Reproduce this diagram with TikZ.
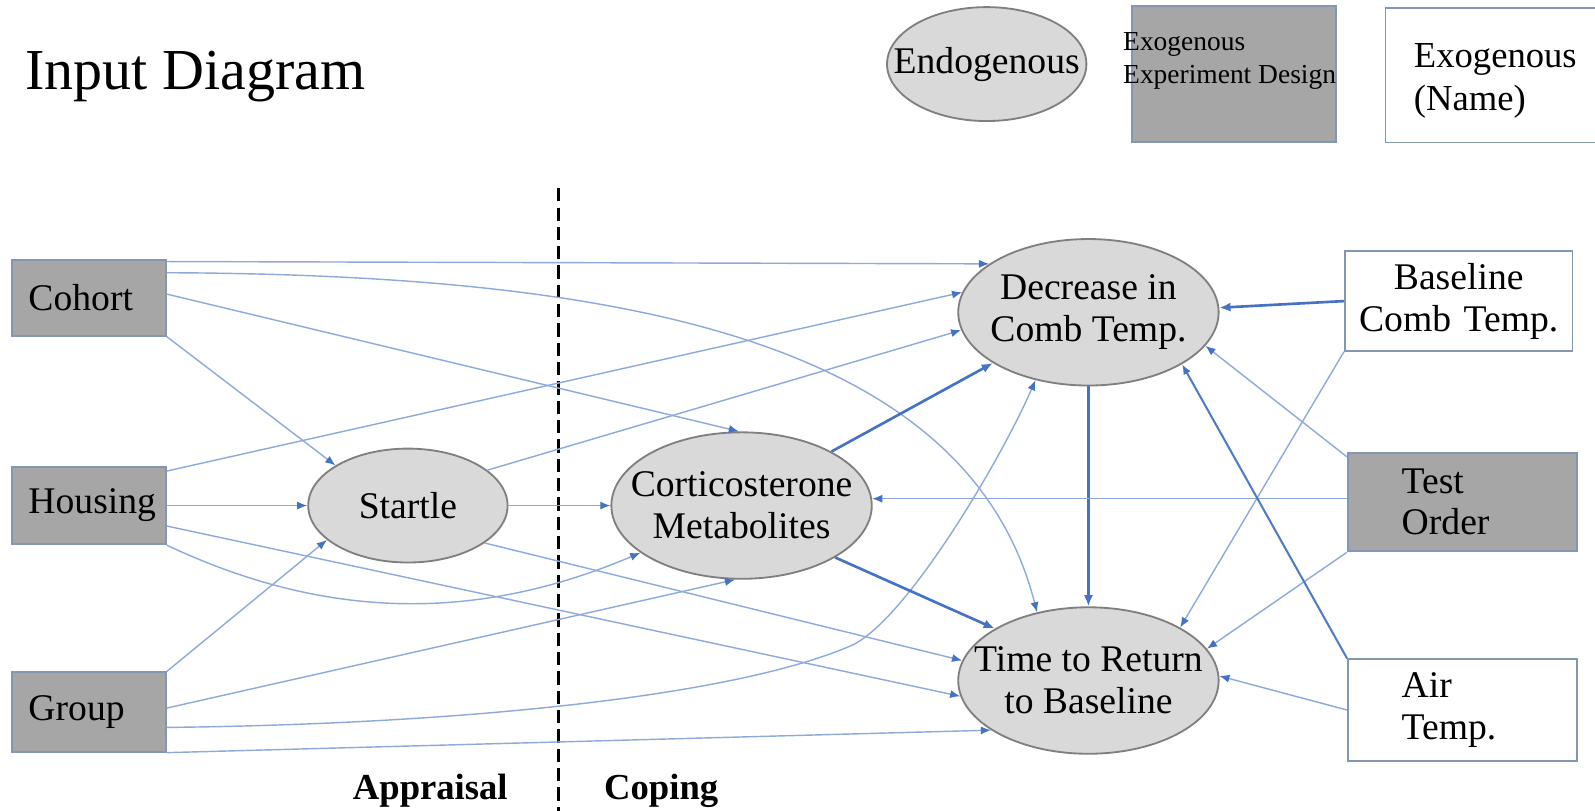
\documentclass[tikz,border=0pt]{standalone}
\usepackage{fontspec}
\setmainfont{Liberation Serif}
\usetikzlibrary{arrows.meta,shapes.geometric,calc}
\definecolor{lineblue}{HTML}{8EAADB}
\definecolor{darkblue}{HTML}{4472C4}
\definecolor{boxgray}{HTML}{A6A6A6}
\definecolor{boxedge}{HTML}{8497B0}
\definecolor{ellfill}{HTML}{D9D9D9}
\definecolor{elledge}{HTML}{7F7F7F}
\begin{document}
\begin{tikzpicture}[x=1pt,y=-1pt,
  nodefont/.style={font=\rmfamily\fontsize{37}{41}\selectfont},
  endo/.style={ellipse, draw=elledge, fill=ellfill, line width=1.8pt, inner xsep=-60pt, inner ysep=-30pt, align=center, nodefont},
  exogray/.style={rectangle, draw=boxedge, fill=boxgray, line width=1.8pt, inner sep=0pt},
  exowhite/.style={rectangle, draw=boxedge, fill=white, line width=1.6pt, inner sep=0pt},
  lnk/.style={draw=lineblue, line width=1.4pt, -{Latex[length=10pt,width=8pt,color=darkblue]}},
  lnkm/.style={draw=darkblue!85!lineblue, line width=2pt, -{Latex[length=10pt,width=8pt,color=darkblue]}},
  lnkb/.style={draw=darkblue, line width=2.6pt, -{Latex[length=11pt,width=9pt]}},
]
\useasboundingbox (0,0) rectangle (1568,797);

% title and legend
\node[anchor=base west, font=\rmfamily\fontsize{57}{60}\selectfont, inner sep=0pt] (title) at (25,88) {Input Diagram};
\node[endo, minimum width=196pt, minimum height=112pt] (legendo) at (970,63) {Endogenous};
\node[exogray, minimum width=200pt, minimum height=134pt] (legexo) at (1213,73) {};
\node[anchor=west, align=left, inner sep=0pt, font=\rmfamily\fontsize{27}{32}\selectfont] (legexotext) at (1104,60) {Exogenous\\Experiment Design};
\node[exowhite, minimum height=132pt, text width=170pt, inner xsep=28pt, align=left, font=\rmfamily\fontsize{36}{42}\selectfont] (legname) at (1475,74) {\rule{0pt}{34pt}Exogenous\\(Name)};

% divider
\coordinate (dtop) at (549,185);
\coordinate (dbot) at (549,800);
\draw[black, line width=3pt, dash pattern=on 13pt off 6pt] (dtop) -- (dbot);
\node[anchor=base, inner sep=0pt, font=\rmfamily\bfseries\fontsize{36}{40}\selectfont] (appr) at (423,786) {Appraisal};
\node[anchor=base, inner sep=0pt, font=\rmfamily\bfseries\fontsize{36}{40}\selectfont] (coping) at (650,786) {Coping};

% exogenous design boxes
\node[exogray, minimum width=151pt, minimum height=74pt, text width=119pt, inner xsep=16pt, align=left, nodefont] (cohort) at (87.5,293) {Cohort};
\node[exogray, minimum width=151pt, minimum height=76pt, text width=119pt, inner xsep=16pt, align=left, nodefont] (housing) at (87.5,497) {Housing};
\node[exogray, minimum width=151pt, minimum height=78pt, text width=119pt, inner xsep=16pt, align=left, nodefont] (group) at (87.5,700) {Group};
\node[exogray, minimum width=225pt, minimum height=97pt, text width=119pt, inner xsep=53pt, align=left, nodefont] (test) at (1437.5,493.5) {Test\\Order};

% exogenous named boxes
\node[exowhite, minimum width=224pt, minimum height=98pt, text width=224pt, align=center, nodefont] (base) at (1434,296) {Baseline\\Comb Temp.};
\node[exowhite, minimum width=225pt, minimum height=100pt, text width=119pt, inner xsep=53pt, align=left, nodefont] (air) at (1437.5,698) {Air\\Temp.};

% endogenous
\node[endo, minimum width=196pt, minimum height=112pt] (startle) at (401,497) {Startle};
\node[endo, minimum width=256pt, minimum height=144pt] (cort) at (729,497) {Corticosterone\\Metabolites};
\node[endo, minimum width=256pt, minimum height=144pt] (dec) at (1070,307) {Decrease in\\Comb Temp.};
\node[endo, minimum width=256pt, minimum height=144pt] (ttr) at (1070,669) {Time to Return\\to Baseline};

% cohort
\draw[lnk] ([yshift=-2pt]cohort.north east) -- (dec.154);
\draw[lnk] ([yshift=-13pt]cohort.north east) .. controls (600,270) and (950,330) .. (ttr.127);
\draw[lnk] ([yshift=-34pt]cohort.north east) -- (cort.92);
\draw[lnk] (cohort.south east) -- (startle.151);
% housing
\draw[lnk] ([yshift=-5pt]housing.north east) -- (dec.171);
\draw[lnk] (housing.east) -- (startle.west);
\draw[lnk] ([yshift=-59pt]housing.north east) -- (ttr.187);
\draw[lnk] (housing.south east) .. controls (300,600) and (450,620) .. (cort.205);
% group
\draw[lnk] (group.north east) -- (startle.203);
\draw[lnk] ([yshift=-36pt]group.north east) -- (cort.265);
\coordinate (gbend) at (836,635);
\draw[lnk] ([yshift=-55pt]group.north east) .. controls (450,712) and (720,685) .. (gbend) .. controls (890,612) and (985,450) .. (dec.232);
\draw[lnk] (group.south east) -- (ttr.207);
% startle
\draw[lnk] (startle.east) -- (cort.west);
\draw[lnk] (startle.24) -- (dec.188);
\draw[lnk] (startle.334) -- (ttr.171);
% corticosterone and decrease
\draw[lnkb] (cort.31) -- (dec.208);
\draw[lnkb] (cort.331) -- (ttr.151);
\draw[lnkb] (dec.south) -- (ttr.north);
% right side
\draw[lnkb] (base.west) -- (dec.2);
\draw[lnk] (base.south west) -- (ttr.30);
\draw[lnk] ([yshift=-5pt]test.north west) -- (dec.344);
\draw[lnk] (cort.3 -| test.west) -- (cort.3);
\draw[lnk] (test.south west) -- (ttr.15);
\draw[lnkm] (air.north west) -- (dec.331);
\draw[lnk] (air.west) -- (ttr.2);
\end{tikzpicture}
\end{document}
